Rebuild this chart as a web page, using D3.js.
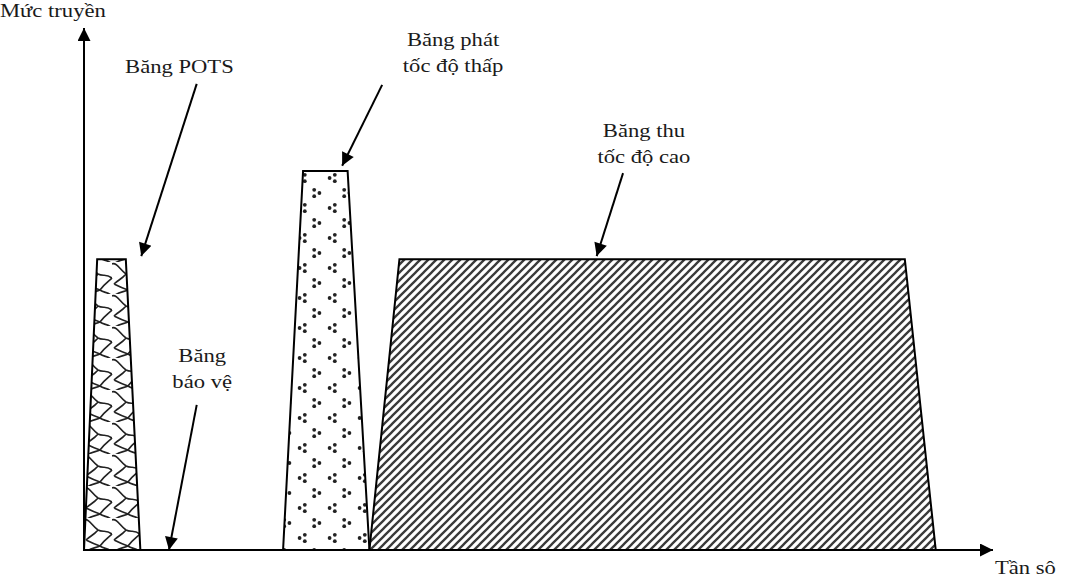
<!DOCTYPE html>
<html>
<head>
<meta charset="utf-8">
<script src="https://cdn.jsdelivr.net/npm/d3@7/dist/d3.min.js"></script>
<style>
  html, body { margin: 0; padding: 0; background: #fff; }
  text { font-family: "Liberation Serif", "DejaVu Serif", "Times New Roman", serif; font-size: 19px; fill: #1a1a1a; }
</style>
</head>
<body>
<div id="chart"></div>
<script>
// Frequency bands (arbitrary units): bottom edges, top edges, level
const bandNames = ["pots", "upstream", "downstream"];
const bandBottom = [[0, 6.2], [21.9, 31.4], [31.4, 93.7]];
const bandTop = [[1.45, 4.6], [24.1, 29.0], [34.7, 90.3]];
const bandLevel = [55.7, 72.6, 55.7];

// Annotation labels and arrows (data units)
const labelLines = [["Băng POTS"], ["Băng", "báo vệ"], ["Băng phát", "tốc độ thấp"], ["Băng thu", "tốc độ cao"]];
const labelAt = [[10.5, 91.3], [13, 36], [40.6, 96.5], [61.6, 79.2]];
const arrowFrom = [[12.4, 89.3], [12.4, 27.8], [32.8, 89.1], [59.3, 72.2]];
const arrowTo = [[6.3, 56.3], [9.35, 0], [28.4, 73.6], [56.4, 56.3]];

const axisLabels = ["Mức truyền", "Tần sô"];

const w = 1080;
const h = 586;
const stretch = 1.19; // text in the picture is drawn a bit wide

const x = d3.scaleLinear().domain([0, 100]).range([84, 993]);
const y = d3.scaleLinear().domain([0, 100]).range([550, 28]);

const svg = d3.select("#chart").append("svg")
  .attr("width", w)
  .attr("height", h);

const defs = svg.append("defs");

// arrow heads
defs.append("marker")
  .attr("id", "head")
  .attr("viewBox", "0 0 10 10")
  .attr("refX", 10).attr("refY", 5)
  .attr("markerUnits", "userSpaceOnUse")
  .attr("markerWidth", 16).attr("markerHeight", 13)
  .attr("orient", "auto")
  .append("path").attr("d", "M0,0 L10,5 L0,10 Z").attr("fill", "#000");

defs.append("marker")
  .attr("id", "axhead")
  .attr("viewBox", "0 0 10 10")
  .attr("refX", 10).attr("refY", 5)
  .attr("markerUnits", "userSpaceOnUse")
  .attr("markerWidth", 17).attr("markerHeight", 13)
  .attr("orient", "auto")
  .append("path").attr("d", "M0,0 L10,5 L0,10 Z").attr("fill", "#000");

// POTS: wavy weave
const pWave = defs.append("pattern")
  .attr("id", "pat-pots")
  .attr("patternUnits", "userSpaceOnUse")
  .attr("x", 84).attr("y", 262)
  .attr("width", 28).attr("height", 32);
pWave.append("path")
  .attr("d", "M0,2 C5,0 8,8 14,12 C19,15 22,11 28,16 M14,12 C10,17 6,18 2,22 M28,16 C24,20 20,22 16,28 C20,31 24,30 28,34 M0,16 C-4,20 -8,22 -12,28 M16,28 C12,30 6,30 2,34 M2,22 C6,24 10,26 16,28")
  .attr("fill", "none").attr("stroke", "#222").attr("stroke-width", 1.7);

// upstream: dot clusters
const pDots = defs.append("pattern")
  .attr("id", "pat-up")
  .attr("patternUnits", "userSpaceOnUse")
  .attr("x", 295).attr("y", 168)
  .attr("width", 30).attr("height", 30);
const cluster = (g, cx, cy, dir) => {
  [[dir * 2.8, -3.2], [-dir * 2.4, 0], [dir * 2.8, 3.2]].forEach(d =>
    g.append("circle").attr("cx", cx + d[0]).attr("cy", cy + d[1]).attr("r", 1.9).attr("fill", "#222"));
};
cluster(pDots, 7, 10, 1);
cluster(pDots, 22, 25, -1);

// downstream: diagonal hatch
const pHatch = defs.append("pattern")
  .attr("id", "pat-down")
  .attr("patternUnits", "userSpaceOnUse")
  .attr("width", 8).attr("height", 8);
pHatch.append("path")
  .attr("d", "M-2,2 L2,-2 M0,8 L8,0 M6,10 L10,6")
  .attr("stroke", "#3a3a3a").attr("stroke-width", 2.3);

const fills = ["url(#pat-pots)", "url(#pat-up)", "url(#pat-down)"];

// bands
const bands = bandNames.map((n, i) => ({
  name: n, bottom: bandBottom[i], top: bandTop[i], level: bandLevel[i], fill: fills[i]
}));

svg.selectAll("path.band")
  .data(bands)
  .enter()
  .append("path")
  .attr("class", "band")
  .attr("d", d => d3.line()([
    [x(d.bottom[0]), y(0)],
    [x(d.top[0]), y(d.level)],
    [x(d.top[1]), y(d.level)],
    [x(d.bottom[1]), y(0)]
  ]) + "Z")
  .attr("fill", d => d.fill)
  .attr("stroke", "#000")
  .attr("stroke-width", 2)
  .attr("stroke-linejoin", "miter");

// axes
svg.append("line")
  .attr("x1", x(0)).attr("y1", y(0))
  .attr("x2", x(0)).attr("y2", y(100))
  .attr("stroke", "#000").attr("stroke-width", 2)
  .attr("marker-end", "url(#axhead)");

svg.append("line")
  .attr("x1", x(0) - 1).attr("y1", y(0))
  .attr("x2", x(100)).attr("y2", y(0))
  .attr("stroke", "#000").attr("stroke-width", 2)
  .attr("marker-end", "url(#axhead)");

const putText = (lines, px, py, anchor) => {
  const t = svg.append("text")
    .attr("text-anchor", anchor)
    .attr("transform", `translate(${px},${py}) scale(${stretch},1)`);
  lines.forEach((s, i) => t.append("tspan").attr("x", 0).attr("dy", i === 0 ? 0 : 26).text(s));
};

putText([axisLabels[0]], 0, 17, "start");
putText([axisLabels[1]], x(100) + 2, 574, "start");

// annotation arrows
svg.selectAll("line.arrow")
  .data(arrowFrom)
  .enter()
  .append("line")
  .attr("class", "arrow")
  .attr("x1", d => x(d[0])).attr("y1", d => y(d[1]))
  .attr("x2", (d, i) => x(arrowTo[i][0])).attr("y2", (d, i) => y(arrowTo[i][1]))
  .attr("stroke", "#000").attr("stroke-width", 2)
  .attr("marker-end", "url(#head)");

// annotation labels
labelLines.forEach((lines, i) => putText(lines, x(labelAt[i][0]), y(labelAt[i][1]), "middle"));
</script>
</body>
</html>
